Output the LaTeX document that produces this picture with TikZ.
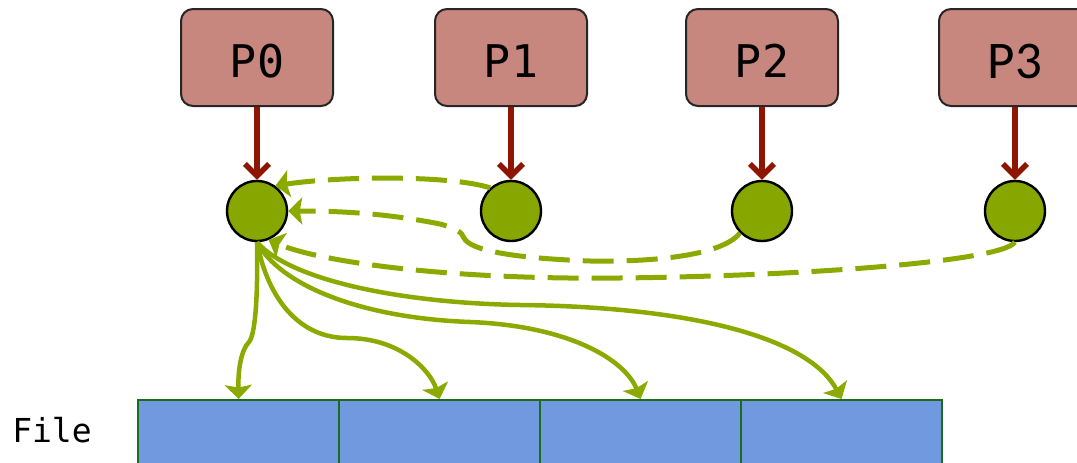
\documentclass[tikz,border=0pt]{standalone}
\usepackage{fontspec}
\setmonofont{DejaVu Sans Mono}
\newfontfamily\calfont{Carlito}
\usetikzlibrary{arrows.meta}
\definecolor{boxfill}{HTML}{C8877E}
\definecolor{dotfill}{HTML}{88A600}
\definecolor{lnk}{HTML}{8AAA00}
\definecolor{redarr}{HTML}{8E1500}
\definecolor{cellfill}{HTML}{7199E0}
\definecolor{celldraw}{HTML}{1E6B1E}
\begin{document}
\begin{tikzpicture}[x=1pt,y=-1pt,
  proc/.style={draw=black!85, line width=2pt, fill=boxfill, rounded corners=12pt,
    minimum width=152pt, minimum height=97pt, inner sep=0pt, text height=40pt, text depth=0pt,
    font=\ttfamily\fontsize{45}{45}\selectfont},
  dot/.style={circle, draw=black, line width=2.4pt, fill=dotfill, minimum size=60pt, inner sep=0pt},
  cell/.style={draw=celldraw, line width=2.2pt, fill=cellfill, minimum width=201pt,
    minimum height=100pt, inner sep=0pt, anchor=north west},
  feed/.style={draw=redarr, line width=5.5pt, -{Straight Barb[length=12pt,width=24pt]}},
  gather/.style={draw=lnk, line width=5pt, dash pattern=on 31pt off 13pt,
    -{Stealth[length=14pt,width=27pt,inset=2.5pt]}},
  write/.style={draw=lnk, line width=4.5pt, -{Stealth[length=14pt,width=27pt,inset=2.5pt]}}
]
\clip (0,0) rectangle (1077,463);
\useasboundingbox (0,0) rectangle (1077,463);

\node[proc] (p0) at (257,57.5) {P0};
\node[proc] (p1) at (511,57.5) {P1};
\node[proc] (p2) at (762,57.5) {P2};
\node[proc, font=\calfont\fontsize{53}{53}\selectfont, text height=42pt] (p3) at (1015,57.5) {P3};

\node[dot] (c0) at (257,211) {};
\node[dot] (c1) at (511,211) {};
\node[dot] (c2) at (762,211) {};
\node[dot] (c3) at (1015,211) {};

\draw[feed] (p0.south) -- (c0.north);
\draw[feed] (p1.south) -- (c1.north);
\draw[feed] (p2.south) -- (c2.north);
\draw[feed] (p3.south) -- (c3.north);

\node[cell] (f1) at (137,399) {};
\node[cell] (f2) at (338,399) {};
\node[cell] (f3) at (539,399) {};
\node[cell] (f4) at (740,399) {};

\node[anchor=base, font=\ttfamily\fontsize{33}{33}\selectfont] (file) at (52,442) {File};

\draw[gather] (c1.132) .. controls (450,175) and (340,176) .. (c0.54);
\draw[gather] (c2.225) .. controls (720,258) and (640,262) .. (590,261)
  .. controls (510,258) and (470,250) .. (464,238)
  .. controls (462,232) and (455,228) .. (440,224)
  .. controls (380,212) and (330,211) .. (c0.east);
\draw[gather] (c3.south) .. controls (1000,262) and (800,276) .. (620,278)
  .. controls (450,280) and (320,262) .. (c0.-68);

\draw[write] (c0.south) .. controls (258,300) and (255,335) .. (249,342)
  .. controls (241,350) and (238,370) .. (f1.north);
\draw[write] (c0.south) .. controls (268,300) and (300,338) .. (347,338)
  .. controls (400,338) and (430,370) .. (f2.north);
\draw[write] (c0.south) .. controls (280,285) and (360,318) .. (470,322)
  .. controls (570,326) and (625,360) .. (f3.north);
\draw[write] (c0.south) .. controls (290,280) and (400,303) .. (520,305)
  .. controls (700,307) and (810,340) .. (f4.north);
\end{tikzpicture}
\end{document}
